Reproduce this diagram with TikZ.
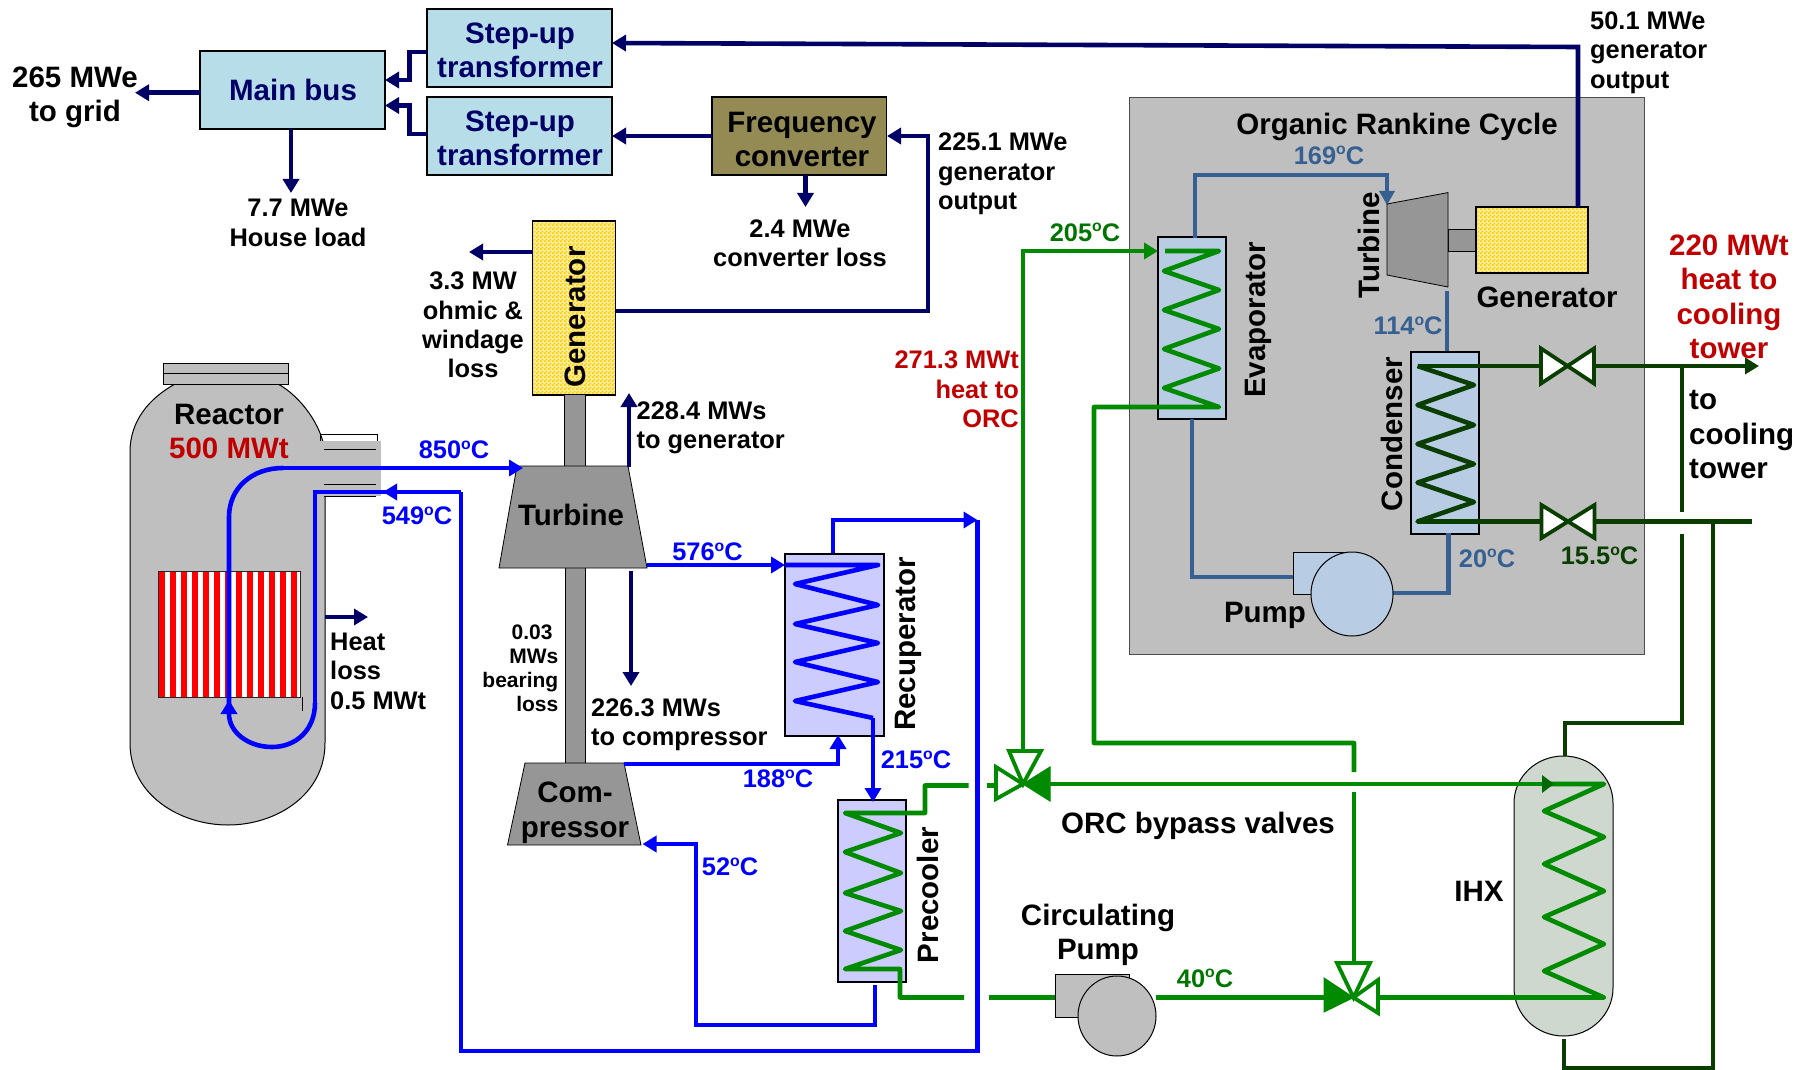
\documentclass[tikz,border=0pt]{standalone}
\usepackage{fontspec}
\setmainfont{Liberation Sans}
\usetikzlibrary{arrows.meta,fit,patterns,shapes.geometric}
\definecolor{navyL}{HTML}{000066}
\definecolor{blueL}{HTML}{0000FF}
\definecolor{orcL}{HTML}{376092}
\definecolor{greenL}{HTML}{008A00}
\definecolor{dgreenL}{HTML}{0A3D00}
\definecolor{redT}{HTML}{C00000}
\definecolor{grayB}{HTML}{BFBFBF}
\definecolor{grayD}{HTML}{969696}
\definecolor{busC}{HTML}{B7DDE8}
\definecolor{freqC}{HTML}{948A54}
\definecolor{hxB}{HTML}{CCCCFF}
\definecolor{hxO}{HTML}{B8CCE4}
\definecolor{ihxC}{HTML}{CFD8CF}
\definecolor{genC}{HTML}{FFCC00}
\definecolor{genU}{HTML}{FFEE99}
\pgfdeclarepatternformonly{goldcheck}{\pgfqpoint{0pt}{0pt}}{\pgfqpoint{4pt}{4pt}}{\pgfqpoint{4pt}{4pt}}{%
 \pgfpathrectangle{\pgfqpoint{0pt}{0pt}}{\pgfqpoint{2pt}{2pt}}%
 \pgfpathrectangle{\pgfqpoint{2pt}{2pt}}{\pgfqpoint{2pt}{2pt}}%
 \pgfusepath{fill}}
\newcommand\fa{\fontsize{29.5}{34.5}\selectfont}
\newcommand\fb{\fontsize{25.4}{29.4}\selectfont}
\newcommand\fc{\fontsize{21}{24}\selectfont}
\newcommand\dgc{\raisebox{.38em}{\scalebox{.62}{o}}C}
\tikzset{
 x=1pt,y=-1pt,
 big/.style={inner sep=0pt,align=center,font=\fa\bfseries},
 mid/.style={inner sep=0pt,align=center,font=\fb\bfseries},
 lft/.style={inner sep=0pt,align=left,font=\fb\bfseries,anchor=west},
 sml/.style={inner sep=0pt,align=right,font=\fc\bfseries,anchor=east},
 navyT/.style={text=navyL},
 tempB/.style={inner sep=0pt,font=\fb\bfseries,text=blueL},
 tempO/.style={inner sep=0pt,font=\fb\bfseries,text=orcL},
 tempG/.style={inner sep=0pt,font=\fb\bfseries,text=greenL!85!black},
 tempD/.style={inner sep=0pt,font=\fb\bfseries,text=dgreenL},
 redL/.style={text=redT},
 boxN/.style={inner sep=0pt,draw=black,line width=1.2pt},
 goldbox/.style={boxN,preaction={fill=genU},pattern=goldcheck,pattern color=genC},
 elec/.style={draw=navyL,line width=4.6pt},
 elecA/.style={elec,-{Triangle[length=14pt,width=16pt]}},
 pipeB/.style={draw=blueL,line width=4.6pt},
 pipeBA/.style={pipeB,-{Triangle[length=14pt,width=16pt]}},
 pipeO/.style={draw=orcL,line width=4.2pt},
 pipeOA/.style={pipeO,-{Triangle[length=14pt,width=15pt]}},
 pipeG/.style={draw=greenL,line width=4.6pt},
 pipeGA/.style={pipeG,-{Triangle[length=14pt,width=16pt]}},
 pipeD/.style={draw=dgreenL,line width=4.6pt},
 pipeDA/.style={pipeD,-{Triangle[length=14pt,width=16pt]}},
 machine/.style={fill=grayD,draw=black,line width=.8pt},
 vesselS/.style={fill=grayB,draw=black,line width=1pt},
 valveH/.style={line width=3.8pt,fill=white,line join=miter},
 pumpC/.style={ellipse,inner sep=0pt,draw=black,line width=1pt},
}
\begin{document}
\begin{tikzpicture}
\useasboundingbox (0,0) rectangle (1808,1070);
% ===== electrical boxes
\node[boxN,fill=busC,fit={(200,51)(385,129)}] (bus) {};
\node[boxN,fill=busC,fit={(427,9)(612,87)}] (stepA) {};
\node[boxN,fill=busC,fit={(427,97)(612,175)}] (stepB) {};
\node[boxN,fill=freqC,fit={(712,97)(886.5,175)}] (freq) {};
\node[big,navyT] (busT) at (293,90) {Main bus};
\node[big,navyT] (stepAT) at (520,50.5) {Step-up\\transformer};
\node[big,navyT] (stepBT) at (520,138.5) {Step-up\\transformer};
\node[big] (freqT) at (802,139.5) {Frequency\\converter};
% ===== ORC enclosure
\node[inner sep=0pt,fill=grayB,draw=black!70,line width=1pt,fit={(1129,98)(1644,654)}] (orc) {};
\node[big] (orcT) at (1397,127) {Organic Rankine Cycle};
% ===== reactor vessel
\path[vesselS] (175,384) .. controls (150,398) and (130,420) .. (130,452) -- (130,743)
  .. controls (130,795) and (180,825) .. (228,825) .. controls (276,825) and (325,795) .. (325,743)
  -- (325,496) -- (325,452) .. controls (322,425) and (300,396) .. (278,384) -- cycle;
\fill[grayB] (320,441) rectangle (381,496);
\draw[black,line width=1pt] (320,441) -- (320,434) -- (377,434) -- (377,441);
\draw[black,line width=1pt] (324,449) -- (376,449) (324,484) -- (376,484) (324,496) -- (376,496);
\node[inner sep=0pt,fill=grayB,draw=black,line width=1pt,fit={(163,363)(288,384)}] (lid) {};
\draw[black,line width=1.4pt] (lid.west) -- (lid.east);
\node[inner sep=0pt,fill=white,fit={(158,571)(300,697)}] (core) {};
\foreach \i in {0,...,12}{\fill[red] ({159+11*\i},571) rectangle ({165+11*\i},697);}
\node[inner sep=0pt,draw=black!85,line width=1pt,fit={(158,571)(300,697)}] {};
\draw[black,line width=1pt] (302,697) -- (302,711);
\node[big] (reactT) at (229,431.5) {Reactor\\\textcolor{redT}{500 MWt}};
% ===== generator (power conversion)
\node[goldbox,fit={(532.5,221)(615.5,395)}] (gen) {};
\node[big,rotate=90] (genT) at (575,317) {Generator};
% ===== shafts, turbine, compressor
\fill[grayD] (564,395) rectangle (585,467);
\draw[black,line width=.8pt] (564,395) -- (564,467) (585,395) -- (585,467);
\fill[grayD] (565,568) rectangle (585,763);
\draw[black,line width=.8pt] (565,568) -- (565,763) (585,568) -- (585,763);
\path[machine] (517,466) -- (628,466) -- (647,568) -- (499,568) -- cycle;
\node[big] (turbT) at (571,515) {Turbine};
\path[machine] (525,763) -- (624,763) -- (641,845) -- (507.5,845) -- cycle;
\node[big] (compT) at (575,813) {Com-\\pressor};
% ===== heat exchangers
\node[boxN,fill=hxB,fit={(785,554)(884,736)}] (rec) {};
\node[big,rotate=90] (recT) at (908,644) {Recuperator};
\node[boxN,fill=hxB,fit={(838,800)(906,982)}] (pre) {};
\node[big,rotate=90] (preT) at (928,895) {Precooler};
\node[boxN,fill=hxO,fit={(1158,237)(1226,419)}] (evap) {};
\node[big,rotate=90] (evapT) at (1258,320) {Evaporator};
\node[boxN,fill=hxO,fit={(1411,352)(1479,534)}] (cond) {};
\node[big,rotate=90] (condT) at (1392,434) {Condenser};
\path[fill=ihxC,draw=black,line width=1pt] (1514,803) .. controls (1514,777) and (1536,756) .. (1563.5,756)
  .. controls (1591,756) and (1613,777) .. (1613,803) -- (1613,988)
  .. controls (1613,1014) and (1591,1036) .. (1563.5,1036)
  .. controls (1536,1036) and (1514,1014) .. (1514,988) -- cycle;
\node[big] (ihxT) at (1479,891) {IHX};
% ===== named connection points
\coordinate (hot1) at (283,468); \coordinate (turbIn) at (523,468);
\coordinate (cold1) at (461,492); \coordinate (vesselIn) at (383,492);
\coordinate (recIn) at (785,565); \coordinate (turbOut) at (647,565);
\coordinate (recOut) at (873,718); \coordinate (preIn) at (873,802);
\coordinate (compOut) at (624,764); \coordinate (recColdIn) at (838,735);
\coordinate (recTop) at (833,553); \coordinate (hotReturn) at (977.5,520);
\coordinate (preOut) at (875,985); \coordinate (compIn) at (642.5,844);
\coordinate (valveA) at (1023,784); \coordinate (valveB) at (1353.5,997.5);
\coordinate (v1) at (1567.5,366); \coordinate (v2) at (1568,521.5);
% ===== primary loop (blue)
\draw[pipeB] (229,712) -- (229,517) .. controls (229,488) and (252,468) .. (hot1);
\draw[pipeBA] (hot1) -- (turbIn);
\draw[pipeBA] (315,703) .. controls (315,730) and (296,747) .. (272,747) .. controls (248,747) and (229,732) .. (229,714) -- (229,700);
\draw[pipeB] (315,703) -- (315,492) -- (cold1);
\draw[pipeB,line join=miter] (cold1) -- (461,1051) -- (977.5,1051) -- (hotReturn);
\draw[pipeBA] (cold1) -- (vesselIn);
\draw[pipeBA] (turbOut) -- (recIn);
\draw[pipeBA] (recTop) -- (833,520) -- (hotReturn);
\draw[pipeB,line join=round] (recIn) -- (878,565) -- (795,584) -- (878,605) -- (795,624) -- (878,643) -- (795,662) -- (878,682) -- (795,701) -- (recOut);
\draw[pipeBA] (recOut) -- (preIn);
\draw[pipeBA] (compOut) -- (838,764) -- (recColdIn);
\draw[pipeBA] (preOut) -- (875,1025) -- (696,1025) -- (696,844) -- (compIn);
% ===== intermediate loop (green)
\draw[pipeG,line join=round] (968.6,785.5) -- (925,785.5) -- (925,813) -- (845,813) -- (901,833) -- (845,852) -- (901,873) -- (845,893) -- (901,911) -- (845,931) -- (901,950) -- (845,969) -- (900,969) -- (900,997.5) -- (964,997.5);
\draw[pipeG] (987,785.5) -- (996,785.5);
\draw[pipeGA] (1023,751) -- (1023,251) -- (1158,251);
\draw[pipeG,line join=round] (1165,251) -- (1219,251) -- (1164,271) -- (1219,290) -- (1164,310) -- (1219,329) -- (1164,349) -- (1219,368.5) -- (1164,388) -- (1219,407) -- (1094,407) -- (1094,743) -- (1354,743) -- (1354,772);
\draw[pipeG] (1354,792) -- (1354,963);
\draw[pipeG] (1050,784) -- (1554,784);
\draw[pipeG,line join=round] (1544,784) -- (1604,784) -- (1544,811) -- (1604,837) -- (1544,864) -- (1604,891) -- (1544,917) -- (1604,944) -- (1544,971) -- (1604,997.5) -- (1378,997.5);
\fill[greenL!75!black] (1542,775) -- (1554,784) -- (1542,793) -- cycle;
\draw[pipeG] (989,997.5) -- (1055,997.5);
\draw[pipeG] (1156,997.5) -- (1324,997.5);
% valves, green
\draw[valveH,draw=greenL] (valveA) -- (1009,751) -- (1041,751) -- cycle;
\draw[valveH,draw=greenL] (valveA) -- (996,767) -- (996,799) -- cycle;
\fill[greenL,draw=greenL,line width=1pt] (valveA) -- (1050,767) -- (1050,801) -- cycle;
\draw[valveH,draw=greenL] (valveB) -- (1337,963) -- (1370,963) -- cycle;
\draw[valveH,draw=greenL] (valveB) -- (1378,980) -- (1378,1013) -- cycle;
\fill[greenL,draw=greenL,line width=1pt] (valveB) -- (1324,978) -- (1324,1012) -- cycle;
% circulating pump
\node[inner sep=0pt,fill=grayB,draw=black,line width=1pt,fit={(1055,974)(1129,1017)}] (circH) {};
\node[pumpC,fill=grayB,minimum width=78pt,minimum height=80pt] (circP) at (1117,1016) {};
% ===== ORC internals
\draw[pipeOA] (1195,238) -- (1195,175) -- (1387,175) -- (1387,205);
\node[inner sep=0pt,fill=grayD,draw=black,line width=.8pt,fit={(1448,229)(1476,251.5)}] (orcShaft) {};
\path[machine] (1387,204) -- (1448,192.6) -- (1448,287) -- (1387,275) -- cycle;
\node[goldbox,fit={(1476,207)(1588,273)}] (gen2) {};
\draw[pipeO] (1447,291) -- (1447,351);
\draw[pipeO] (1192,419) -- (1192,577) -- (1293,577);
\draw[pipeO] (1393,593) -- (1448.5,593) -- (1448.5,533);
\node[inner sep=0pt,fill=hxO,draw=black,line width=1pt,fit={(1293,552)(1350,594)}] (orcH) {};
\node[pumpC,fill=hxO,minimum width=82pt,minimum height=84pt] (orcP) at (1352,594) {};
% ===== cooling water
\draw[pipeD,line join=round] (1417.5,366) -- (1474,385) -- (1417.5,405) -- (1474,425) -- (1417.5,444) -- (1474,464) -- (1417.5,482.6) -- (1474,502) -- (1417.5,521.5) -- (v2);
\draw[pipeD] (1417.5,366) -- (v1);
\draw[pipeDA] (v1) -- (1759,366);
\draw[pipeD] (v2) -- (1751.5,521.5);
\draw[pipeD] (1682,366) -- (1682,512);
\draw[pipeD] (1682,534) -- (1682,723) -- (1565,723) -- (1565,756);
\draw[pipeD] (1713,521.5) -- (1713,1068) -- (1564,1068) -- (1564,1039);
\foreach \v/\h in {v1/17.5,v2/16.5}{
 \draw[valveH,draw=dgreenL] (\v) -- ++(-26.5,-\h) -- ++(0,2*\h) -- cycle;
 \draw[valveH,draw=dgreenL] (\v) -- ++(26.5,-\h) -- ++(0,2*\h) -- cycle;
}
% ===== electrical connectors
\coordinate (bInA) at (385,80); \coordinate (bInB) at (385,105.5);
\draw[elecA] (427,52) -- (409.4,52) -- (409.4,80) -- (bInA);
\draw[elecA] (427,134) -- (409.4,134) -- (409.4,105.5) -- (bInB);
\draw[elecA] (712,136) -- (612,136);
\draw[elecA] (805.5,175) -- (805.5,207);
\draw[elecA] (616,311) -- (928,311) -- (928,136) -- (887,136);
\draw[elecA] (291,129) -- (291,193);
\draw[elecA] (200,92.7) -- (135,92.7);
\draw[elecA] (532.5,252) -- (469,252);
\draw[elecA] (629,467) -- (629,393);
\draw[elecA] (631,571) -- (631,686);
\draw[elecA] (325,617) -- (368,617);
\draw[elecA] (1578,207) -- (1578,47) -- (612,43);
% ===== labels
\node[big] (gridL) at (75,97.5) {265 MWe\\to grid};
\node[mid] (houseL) at (298,223) {7.7 MWe\\House load};
\node[mid] (convL) at (800,243) {2.4 MWe\\converter loss};
\node[mid] (ohmL) at (473,325) {3.3 MW\\ohmic \&\\windage\\loss};
\node[lft] (l228) at (636.5,428) {228.4 MWs\\to generator};
\node[lft] (l225) at (938,174) {225.1 MWe\\generator\\output};
\node[lft] (l50) at (1590,52.5) {50.1 MWe\\generator\\output};
\node[mid,redL,align=right,anchor=east] (l271) at (1019,389.5) {271.3 MWt\\heat to\\ORC};
\node[lft] (lheat) at (330,671) {Heat\\loss\\0.5 MWt};
\node[lft] (l226) at (591,725) {226.3 MWs\\to compressor};
\node[sml] (lbear) at (558.5,668) {0.03\phantom{.}\\MWs\\bearing\\loss};
\node[big] (orcB) at (1198,826) {ORC bypass valves};
\node[big] (circL) at (1098,935) {Circulating\\Pump};
\node[big,redL] (l220) at (1729,297) {220 MWt\\heat to\\cooling\\tower};
\node[big,align=left,anchor=west] (lcool) at (1689,435) {to\\cooling\\tower};
\node[big,rotate=90] (orcTurb) at (1369,245.5) {Turbine};
\node[big] (gen2T) at (1547,297) {Generator};
\node[big] (pumpT) at (1265,615) {Pump};
\node[tempB] (t850) at (454,450) {850\dgc};
\node[tempB] (t549) at (417,516) {549\dgc};
\node[tempB] (t576) at (707.5,552) {576\dgc};
\node[tempB] (t188) at (778,779) {188\dgc};
\node[tempB] (t215) at (916,760) {215\dgc};
\node[tempB] (t52) at (730,867) {52\dgc};
\node[tempO] (t169) at (1329,155.5) {169\dgc};
\node[tempO] (t114) at (1408,326) {114\dgc};
\node[tempO] (t20) at (1487,558.5) {20\dgc};
\node[tempD] (t15) at (1599.5,556) {15.5\dgc};
\node[tempG] (t205) at (1085,232.6) {205\dgc};
\node[tempG] (t40) at (1205,978.5) {40\dgc};
\end{tikzpicture}
\end{document}
